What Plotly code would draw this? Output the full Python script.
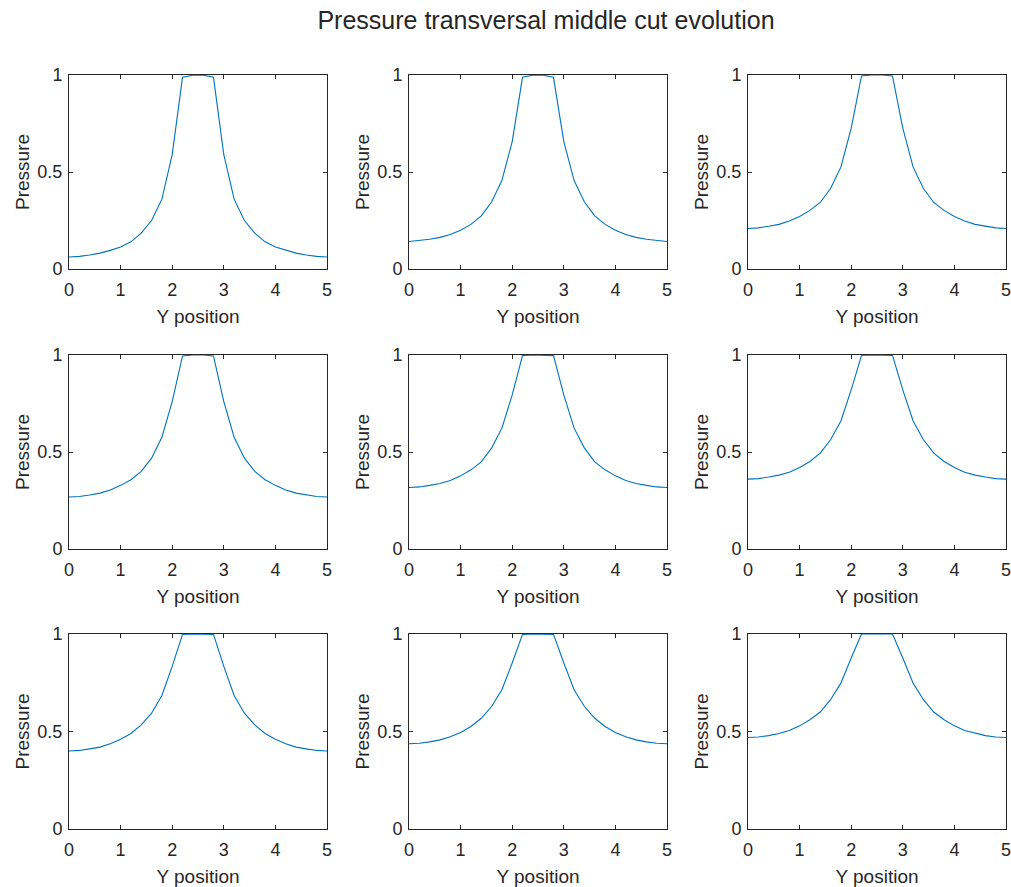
import plotly.graph_objects as go

x_pos = [0.0, 0.2, 0.4, 0.6, 0.8, 1.0, 1.2, 1.4, 1.6, 1.8, 2.0, 2.2, 2.4,
         2.6, 2.8, 3.0, 3.2, 3.4, 3.6, 3.8, 4.0, 4.2, 4.4, 4.6, 4.8, 5.0]

p1 = [0.062, 0.065, 0.072, 0.082, 0.096, 0.113, 0.140, 0.185, 0.250, 0.360, 0.590, 0.988, 0.999,
      0.999, 0.988, 0.590, 0.360, 0.250, 0.185, 0.140, 0.113, 0.096, 0.082, 0.072, 0.065, 0.062]
p2 = [0.142, 0.146, 0.153, 0.163, 0.178, 0.200, 0.230, 0.274, 0.345, 0.456, 0.657, 0.988, 0.999,
      0.999, 0.988, 0.657, 0.456, 0.345, 0.274, 0.230, 0.200, 0.178, 0.163, 0.153, 0.146, 0.142]
p3 = [0.209, 0.212, 0.220, 0.230, 0.247, 0.271, 0.302, 0.343, 0.415, 0.525, 0.726, 0.995, 1.000,
      1.000, 0.995, 0.726, 0.525, 0.415, 0.343, 0.302, 0.271, 0.247, 0.230, 0.220, 0.212, 0.209]
p4 = [0.268, 0.271, 0.278, 0.288, 0.304, 0.328, 0.357, 0.400, 0.468, 0.576, 0.760, 0.995, 1.000,
      1.000, 0.995, 0.760, 0.576, 0.468, 0.400, 0.357, 0.328, 0.304, 0.288, 0.278, 0.271, 0.268]
p5 = [0.317, 0.320, 0.328, 0.338, 0.353, 0.377, 0.408, 0.449, 0.520, 0.623, 0.794, 0.997, 1.000,
      1.000, 0.997, 0.794, 0.623, 0.520, 0.449, 0.408, 0.377, 0.353, 0.338, 0.328, 0.320, 0.317]
p6 = [0.360, 0.363, 0.371, 0.381, 0.396, 0.420, 0.451, 0.494, 0.563, 0.660, 0.820, 0.998, 1.000,
      1.000, 0.998, 0.820, 0.660, 0.563, 0.494, 0.451, 0.420, 0.396, 0.381, 0.371, 0.363, 0.360]
p7 = [0.400, 0.403, 0.411, 0.420, 0.437, 0.460, 0.490, 0.534, 0.594, 0.685, 0.834, 0.998, 1.000,
      1.000, 0.998, 0.834, 0.685, 0.594, 0.534, 0.490, 0.460, 0.437, 0.420, 0.411, 0.403, 0.400]
p8 = [0.437, 0.440, 0.447, 0.457, 0.473, 0.495, 0.526, 0.568, 0.628, 0.714, 0.851, 0.998, 1.000,
      1.000, 0.998, 0.851, 0.714, 0.628, 0.568, 0.526, 0.495, 0.473, 0.457, 0.447, 0.440, 0.437]
p9 = [0.469, 0.472, 0.479, 0.490, 0.505, 0.529, 0.560, 0.600, 0.663, 0.748, 0.877, 1.000, 1.000,
      1.000, 1.000, 0.877, 0.748, 0.663, 0.600, 0.560, 0.529, 0.505, 0.490, 0.479, 0.472, 0.469]

series = [p1, p2, p3, p4, p5, p6, p7, p8, p9]

x_ticks = [0, 1, 2, 3, 4, 5]
y_ticks = [0, 0.5, 1]
y_tick_text = ["0", "0.5", "1"]

title_text = "Pressure transversal middle cut evolution"
x_title = "Y position"
y_title = "Pressure"

W, H = 1011, 887
col_px = [(69, 327), (409, 667), (748, 1006)]
row_px = [(75, 269), (355, 549), (634, 829)]

FONT = "Liberation Sans, Arial, Helvetica, sans-serif"
AX = "#262626"
LINE = "#0072BD"

fig = go.Figure()
layout = {}
for i, ys in enumerate(series):
    r, c = divmod(i, 3)
    n = i + 1
    xa = "xaxis" if n == 1 else f"xaxis{n}"
    ya = "yaxis" if n == 1 else f"yaxis{n}"
    xr = "x" if n == 1 else f"x{n}"
    yr = "y" if n == 1 else f"y{n}"
    fig.add_trace(go.Scatter(x=x_pos, y=ys, mode="lines",
                             line=dict(color=LINE, width=1.1),
                             xaxis=xr, yaxis=yr, showlegend=False,
                             hoverinfo="skip"))
    x0, x1 = col_px[c]
    y0, y1 = row_px[r]
    common = dict(showgrid=False, zeroline=False, showline=True, linecolor=AX,
                  linewidth=1, mirror="ticks", ticks="inside", ticklen=4,
                  tickcolor=AX, tickwidth=1, automargin=False,
                  ticklabeloverflow="allow",
                  tickfont=dict(family=FONT, size=18, color=AX))
    layout[xa] = dict(common, domain=[x0 / W, x1 / W], range=[0, 5],
                      tickvals=x_ticks, anchor=yr, ticklabelstandoff=4,
                      title=dict(text=x_title, standoff=11,
                                 font=dict(family=FONT, size=19, color=AX)))
    layout[ya] = dict(common, domain=[1 - y1 / H, 1 - y0 / H], range=[0, 1],
                      tickvals=y_ticks, ticktext=y_tick_text, anchor=xr,
                      ticklabelstandoff=2,
                      title=dict(text=y_title, standoff=2,
                                 font=dict(family=FONT, size=19, color=AX)))

fig.update_layout(**layout)
fig.update_layout(
    width=W, height=H,
    margin=dict(l=0, r=0, t=0, b=0, autoexpand=False),
    paper_bgcolor="white", plot_bgcolor="white",
    title=dict(text=title_text, x=546 / W, xanchor="center", y=1 - 20 / H,
               yanchor="middle", font=dict(family=FONT, size=25, color=AX)),
)

fig.write_html("out.html")
